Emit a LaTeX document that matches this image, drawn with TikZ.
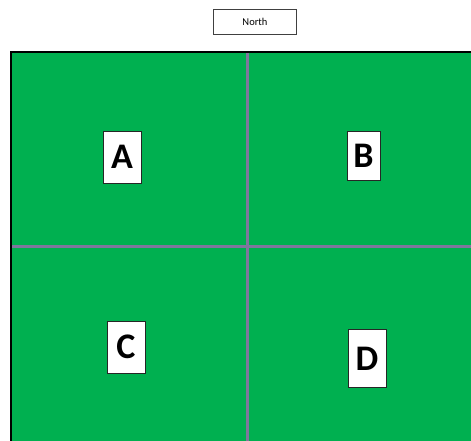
\documentclass[tikz,border=0pt]{standalone}
\usepackage{fontspec}
\setmainfont{Carlito}
\definecolor{fieldgreen}{RGB}{0,176,80}
\definecolor{divider}{RGB}{128,118,158}
\begin{document}
\begin{tikzpicture}[x=1pt,y=-1pt,
  labelbox/.style={draw=black!85,line width=0.9pt,fill=white,inner sep=0pt,font=\fontsize{36}{36}\selectfont\bfseries},
  northbox/.style={draw=black!75,line width=0.9pt,fill=white,minimum width=83pt,minimum height=25pt,inner sep=0pt,font=\fontsize{10.5}{11}\selectfont}]
\useasboundingbox (0,0) rectangle (471,441);
\fill[white] (0,0) rectangle (471,441);
\fill[fieldgreen] (11,52) rectangle (471,441);
\draw[divider,line width=3pt] (247,52) -- (247,441);
\draw[divider,line width=3pt] (11,246) -- (471,246);
\draw[black,line width=2pt] (11,441) -- (11,52) -- (471,52);
\node[northbox] (north) at (255,21.5) {North};
\node[labelbox,minimum width=38pt,minimum height=52pt] (A) at (122,157) {A};
\node[labelbox,minimum width=33pt,minimum height=49pt] (B) at (363.5,155.5) {B};
\node[labelbox,minimum width=38pt,minimum height=52pt] (C) at (126,347) {C};
\node[labelbox,minimum width=38pt,minimum height=58pt] (D) at (367,358.5) {D};
\end{tikzpicture}
\end{document}
